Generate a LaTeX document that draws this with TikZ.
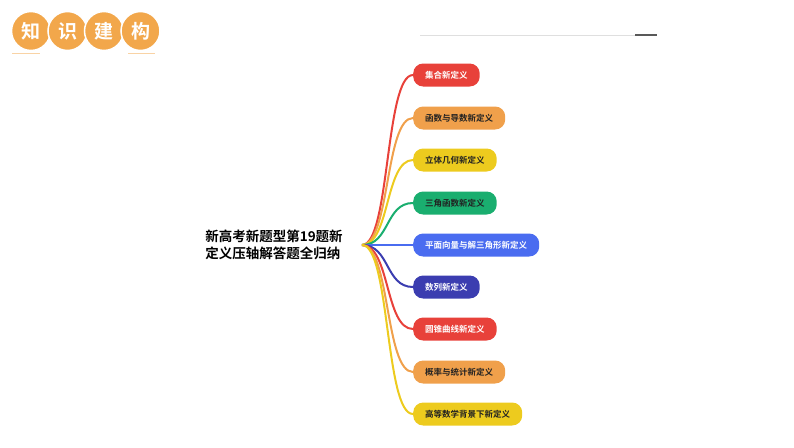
\documentclass[tikz,border=0pt]{standalone}
\usepackage{fontspec}
\setmainfont{Noto Sans CJK SC}[BoldFont={* Bold}]
\begin{document}
\begin{tikzpicture}[x=1pt,y=-1pt,
  leaf/.style={rounded corners=10pt,minimum height=23pt,inner xsep=12pt,anchor=west,font=\fontsize{8.5}{10}\selectfont\bfseries,text=#1},
  title/.style={circle,fill=TitO,draw=white,line width=1.5pt,minimum size=39pt,inner sep=0pt,text=white,font=\fontsize{19}{21}\selectfont\bfseries},
  branch/.style={line width=2pt,draw=#1}]
\definecolor{TitO}{HTML}{F2A74B}
\definecolor{cR}{HTML}{E8413A}\definecolor{cO}{HTML}{F0A04B}\definecolor{cY}{HTML}{EDCB1E}
\definecolor{cG}{HTML}{1AAE6F}\definecolor{cB}{HTML}{4A6CF0}\definecolor{cI}{HTML}{3B3DB0}
\definecolor{dk}{HTML}{222222}
\useasboundingbox (0,0) rectangle (794,447);
\foreach \t [count=\i] in {知,识,建,构}
  \node[title] (t\i) at ({31+36.5*(\i-1)},31) {\t};
\draw[TitO!50,line width=1pt] (12,53) -- (40,53) (128,53) -- (155,53);
\draw[gray!25,line width=1pt] (420,35) -- (635,35);
\draw[gray!70!black,line width=1.5pt] (635,35) -- (657,35);
\node[font=\fontsize{13.5}{17}\selectfont\bfseries,align=left] (c) at (274,245) {新高考新题型第19题新\\定义压轴解答题全归纳};
\coordinate (h) at (362,245);
\foreach \n/\y/\col/\tc/\txt in {
  1/75/cR/white/集合新定义,
  2/118/cO/dk/函数与导数新定义,
  3/160/cY/dk/立体几何新定义,
  4/203/cG/dk/三角函数新定义,
  5/245/cB/white/平面向量与解三角形新定义,
  6/287/cI/white/数列新定义,
  7/329/cR/white/圆锥曲线新定义,
  8/372/cO/dk/概率与统计新定义,
  9/414/cY/dk/高等数学背景下新定义}{
  \node[leaf=\tc,fill=\col] (n\n) at (413,\y) {\txt};
  \draw[branch=\col] (h) .. controls (390,245) and (385,\y) .. (n\n.west);
}
\end{tikzpicture}
\end{document}
